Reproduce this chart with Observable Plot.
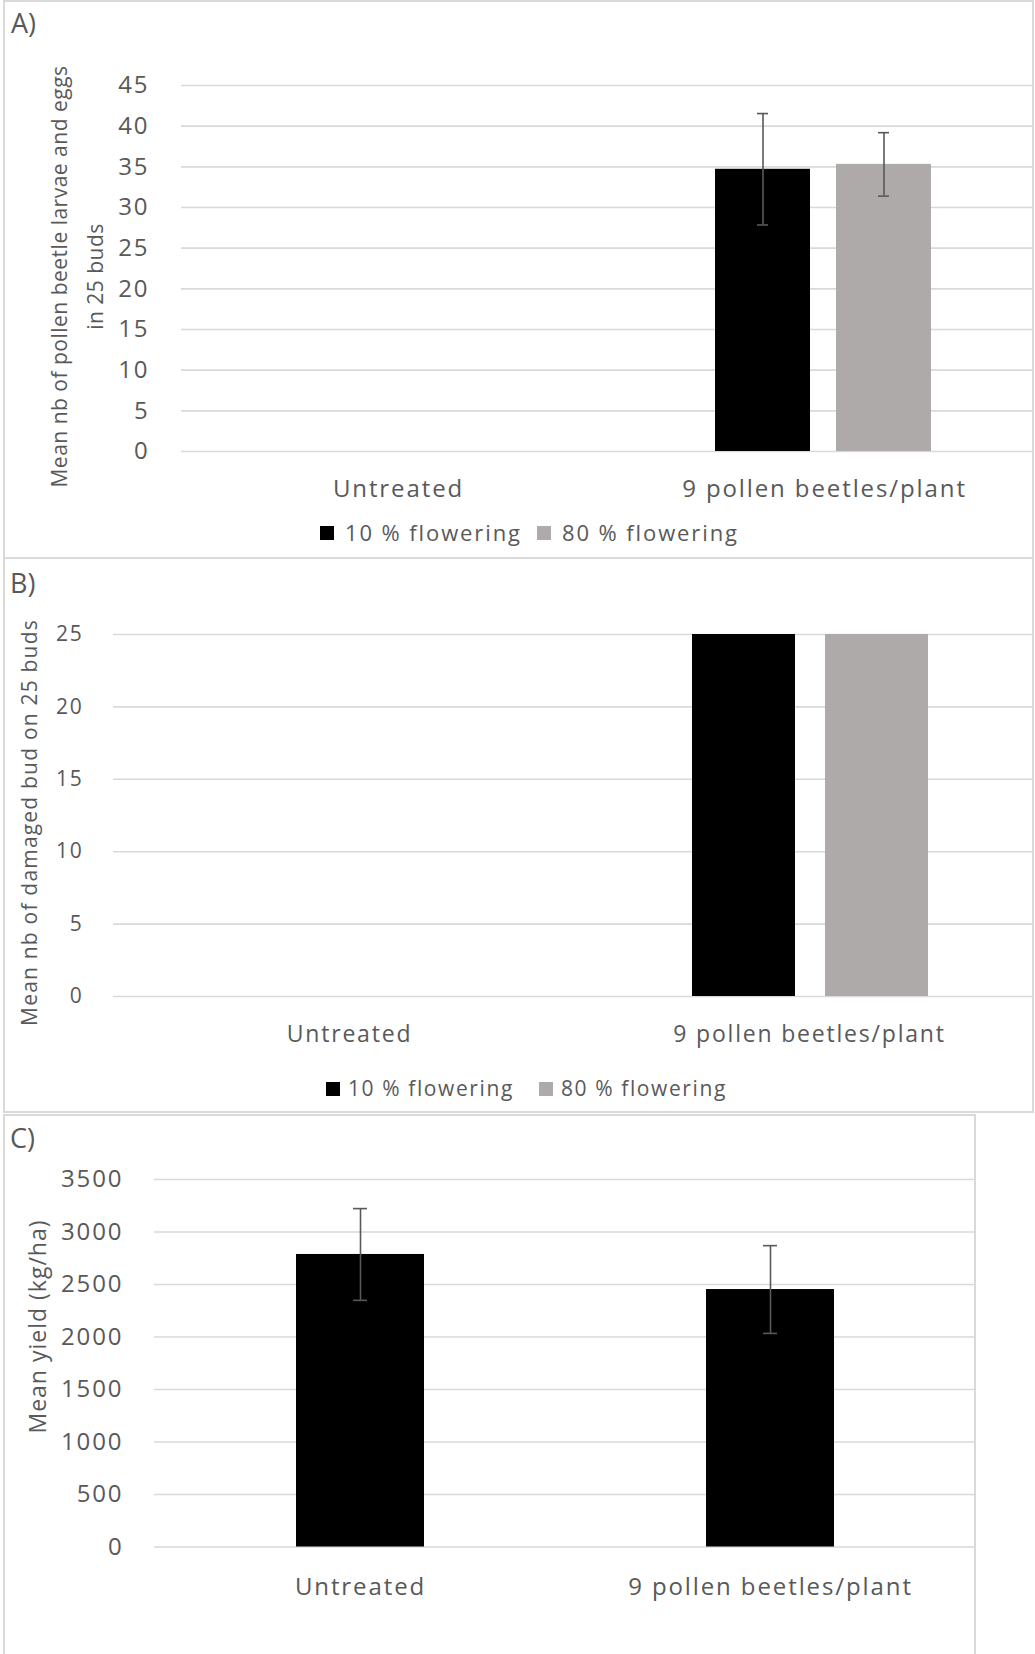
<!DOCTYPE html>
<html>
<head>
<meta charset="utf-8">
<script src="https://cdn.jsdelivr.net/npm/d3@7"></script>
<script src="https://cdn.jsdelivr.net/npm/@observablehq/plot@0.6"></script>
<style>
  html, body { margin: 0; padding: 0; background: #fff; overflow: hidden; }
  body { width: 1035px; height: 1654px; position: relative; font-family: "Open Sans", sans-serif; color: #595959; }
  .layer { position: absolute; left: 0; }
  .box { position: absolute; box-sizing: border-box; border: 2px solid #d9d9d9; pointer-events: none; }
  .letter { position: absolute; font-size: 27px; line-height: 1; color: #595959; }
  .sw { position: absolute; width: 14px; height: 14px; }
  .lt { position: absolute; line-height: 1; white-space: nowrap; color: #595959; }
  #panelA g[aria-label="text"] text { letter-spacing: 0.5px; }
  #panelB g[aria-label="text"] text { letter-spacing: 1.2px; }
  #panelC g[aria-label="text"] text { letter-spacing: 1px; }
</style>
</head>
<body>
<div id="panelA" class="layer" style="top:0px"></div>
<div id="panelB" class="layer" style="top:558px"></div>
<div id="panelC" class="layer" style="top:1114px"></div>
<script>
// ---------- data ----------
const categories = ["Untreated", "9 pollen beetles/plant"];
const series = ["10 % flowering", "80 % flowering"];
const seriesColors = ["#000000", "#aeaaaa"];

// A) larvae and eggs in 25 buds
const larvaeMean10 = [0, 34.7];
const larvaeErr10 = [null, 6.85];
const larvaeMean80 = [0, 35.3];
const larvaeErr80 = [null, 3.9];
const ticksA = [0, 5, 10, 15, 20, 25, 30, 35, 40, 45];
const titleA = "Mean nb of pollen beetle larvae and eggs\nin 25 buds";

// B) damaged buds on 25 buds
const damagedMean10 = [0, 25];
const damagedMean80 = [0, 25];
const ticksB = [0, 5, 10, 15, 20, 25];
const titleB = "Mean nb of damaged bud on 25 buds";

// C) yield
const yieldMean = [2786, 2452];
const yieldErr = [437, 418];
const ticksC = [0, 500, 1000, 1500, 2000, 2500, 3000, 3500];
const titleC = "Mean yield (kg/ha)";

const panelLetters = ["A)", "B)", "C)"];

// ---------- tables ----------
function groupedRows(m10, e10, m80, e80) {
  const rows = [];
  categories.forEach((c, i) => {
    rows.push({category: c, series: series[0], mean: m10[i], err: e10 ? e10[i] : null});
    rows.push({category: c, series: series[1], mean: m80[i], err: e80 ? e80[i] : null});
  });
  return rows;
}
const rowsA = groupedRows(larvaeMean10, larvaeErr10, larvaeMean80, larvaeErr80);
const rowsB = groupedRows(damagedMean10, null, damagedMean80, null);
const rowsC = categories.map((c, i) => ({category: c, mean: yieldMean[i], err: yieldErr[i]}));

const gridStyle = {stroke: "#d9d9d9", strokeWidth: 1.6};
const errStyle = {stroke: "#595959", strokeWidth: 1.6};
const plainFormat = d => String(d);

// ---------- A ----------
const errA = rowsA.filter(d => d.err != null);
const plotA = Plot.plot({
  width: 1035, height: 510,
  marginLeft: 180, marginRight: 2, marginTop: 85, marginBottom: 59,
  style: {fontFamily: "'Open Sans', sans-serif", fontSize: "24px", color: "#595959", background: "none", letterSpacing: "1.9px", overflow: "visible"},
  fx: {domain: categories, padding: 0, label: null},
  x: {domain: series, paddingInner: 0.213, paddingOuter: 0.854, align: 0.517, label: null},
  y: {domain: [0, 45], label: null},
  color: {domain: series, range: seriesColors},
  marks: [
    Plot.ruleY(ticksA, {y: d => d, ...gridStyle}),
    Plot.barY(rowsA, {fx: "category", x: "series", y: "mean", fill: "series"}),
    Plot.ruleX(errA, {fx: "category", x: "series", y1: d => d.mean - d.err, y2: d => d.mean + d.err, ...errStyle}),
    Plot.tickY(errA, {fx: "category", x: "series", y: d => d.mean - d.err, insetLeft: 42, insetRight: 42, ...errStyle}),
    Plot.tickY(errA, {fx: "category", x: "series", y: d => d.mean + d.err, insetLeft: 42, insetRight: 42, ...errStyle}),
    Plot.axisY({ticks: ticksA, tickSize: 0, tickPadding: 32, tickFormat: plainFormat, label: null}),
    Plot.axisX({ticks: [], label: null}),
    Plot.axisFx({anchor: "bottom", tickSize: 0, tickPadding: 28, dx: 4, label: null}),
    Plot.text([titleA], {fx: () => categories[0], text: d => d, frameAnchor: "left", textAnchor: "middle", rotate: -90, dx: -108, dy: 8, fontSize: 21, lineHeight: 1.7, fill: "#595959"})
  ]
});
document.getElementById("panelA").appendChild(plotA);

// ---------- B ----------
const plotB = Plot.plot({
  width: 1035, height: 500,
  marginLeft: 112, marginRight: 2, marginTop: 76, marginBottom: 62,
  style: {fontFamily: "'Open Sans', sans-serif", fontSize: "21px", color: "#595959", background: "none", letterSpacing: "1.8px", overflow: "visible"},
  fx: {domain: categories, padding: 0, label: null},
  x: {domain: series, paddingInner: 0.224, paddingOuter: 0.83, align: 0.533, label: null},
  y: {domain: [0, 25], label: null},
  color: {domain: series, range: seriesColors},
  marks: [
    Plot.ruleY(ticksB, {y: d => d, ...gridStyle}),
    Plot.barY(rowsB, {fx: "category", x: "series", y: "mean", fill: "series"}),
    Plot.axisY({ticks: ticksB, tickSize: 0, tickPadding: 30, tickFormat: plainFormat, label: null}),
    Plot.axisX({ticks: [], label: null}),
    Plot.axisFx({anchor: "bottom", tickSize: 0, tickPadding: 29, fontSize: 23, dx: 6, label: null}),
    Plot.text([titleB], {fx: () => categories[0], text: d => d, frameAnchor: "left", textAnchor: "middle", rotate: -90, dx: -83.5, dy: 7, fontSize: 21, fill: "#595959"})
  ]
});
document.getElementById("panelB").appendChild(plotB);

// ---------- C ----------
const plotC = Plot.plot({
  width: 1035, height: 540,
  marginLeft: 154, marginRight: 60, marginTop: 65, marginBottom: 107.5,
  style: {fontFamily: "'Open Sans', sans-serif", fontSize: "24px", color: "#595959", background: "none", letterSpacing: "1.9px", overflow: "visible"},
  x: {domain: categories, paddingInner: 0.689, paddingOuter: 0.345, label: null},
  y: {domain: [0, 3500], label: null},
  marks: [
    Plot.ruleY(ticksC, {y: d => d, ...gridStyle}),
    Plot.barY(rowsC, {x: "category", y: "mean", fill: seriesColors[0]}),
    Plot.ruleX(rowsC, {x: "category", y1: d => d.mean - d.err, y2: d => d.mean + d.err, ...errStyle}),
    Plot.tickY(rowsC, {x: "category", y: d => d.mean - d.err, insetLeft: 57, insetRight: 57, ...errStyle}),
    Plot.tickY(rowsC, {x: "category", y: d => d.mean + d.err, insetLeft: 57, insetRight: 57, ...errStyle}),
    Plot.axisY({ticks: ticksC, tickSize: 0, tickPadding: 31, tickFormat: plainFormat, label: null}),
    Plot.axisX({anchor: "bottom", tickSize: 0, tickPadding: 30.5, label: null}),
    Plot.text([titleC], {text: d => d, frameAnchor: "left", textAnchor: "middle", rotate: -90, dx: -116, dy: -36.75, fontSize: 23, fill: "#595959"})
  ]
});
document.getElementById("panelC").appendChild(plotC);

// ---------- panel frames, letters, legends ----------
function addEl(cls, css, text) {
  const el = document.createElement("div");
  el.className = cls;
  Object.assign(el.style, css);
  if (text != null) el.textContent = text;
  document.body.appendChild(el);
  return el;
}
addEl("box", {left: "3px", top: "0px", width: "1031px", height: "559px"});
addEl("box", {left: "3px", top: "557px", width: "1031px", height: "556px"});
addEl("box", {left: "3px", top: "1114px", width: "973px", height: "545px"});

addEl("letter", {left: "11px", top: "9px"}, panelLetters[0]);
addEl("letter", {left: "10px", top: "569px"}, panelLetters[1]);
addEl("letter", {left: "10px", top: "1124px"}, panelLetters[2]);

function legend(spec) {
  series.forEach((s, i) => {
    addEl("sw", {left: spec.sw[i] + "px", top: (spec.cy - 7) + "px", background: seriesColors[i]});
    addEl("lt", {left: spec.tx[i] + "px", top: spec.top + "px", fontSize: spec.fs + "px", letterSpacing: spec.ls + "px"}, s);
  });
}
legend({sw: [320, 537], tx: [345, 562], cy: 533, top: 521.4, fs: 22, ls: 1.9});
legend({sw: [326, 539], tx: [348, 561], cy: 1089, top: 1078, fs: 21, ls: 1.6});
</script>
</body>
</html>
